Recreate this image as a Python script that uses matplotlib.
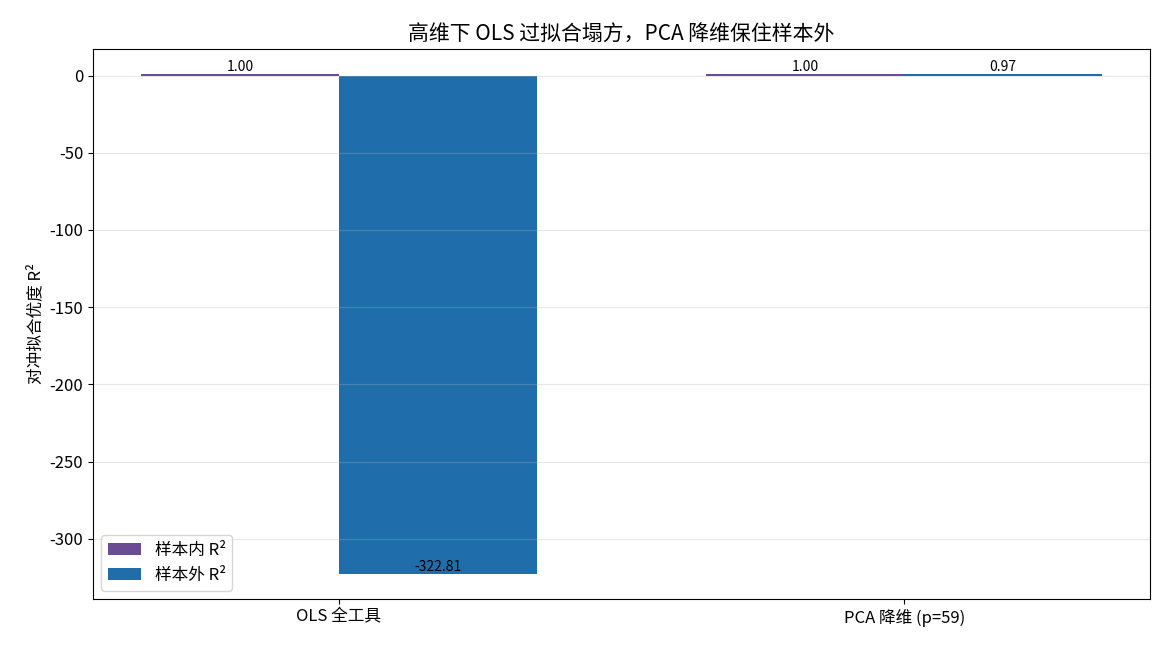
import numpy as np
import matplotlib
matplotlib.use("Agg")
import matplotlib.pyplot as plt

plt.rcParams["font.family"] = ["Noto Sans CJK SC", "DejaVu Sans"]
plt.rcParams["axes.unicode_minus"] = False

categories = ["OLS 全工具", "PCA 降维 (p=59)"]
series_names = ["样本内 R²", "样本外 R²"]
r2_in = [1.00, 1.00]
r2_out = [-322.81, 0.97]
colors = ["#6a4c93", "#1f6eab"]

x = np.arange(len(categories))
width = 0.35

fig, ax = plt.subplots(figsize=(11.7, 6.5), dpi=100)
b1 = ax.bar(x - width / 2, r2_in, width, label=series_names[0], color=colors[0], linewidth=0)
b2 = ax.bar(x + width / 2, r2_out, width, label=series_names[1], color=colors[1], linewidth=0)

# value labels on each bar end
for bars, vals in ((b1, r2_in), (b2, r2_out)):
    for bar, v in zip(bars, vals):
        ax.text(bar.get_x() + bar.get_width() / 2, v, f"{v:.2f}",
                ha="center", va="bottom", fontsize=10)

ax.set_xticks(x)
ax.set_xticklabels(categories, fontsize=12)
ax.tick_params(axis="y", labelsize=12)
ax.set_ylabel("对冲拟合优度 R²", fontsize=12)
ax.set_title("高维下 OLS 过拟合塌方，PCA 降维保住样本外", fontsize=15)
ax.grid(axis="y", alpha=0.3)
ax.legend(loc="lower left", fontsize=12)

fig.subplots_adjust(left=0.0795, right=0.983, top=0.9246, bottom=0.0785)
fig.savefig("out.png")
